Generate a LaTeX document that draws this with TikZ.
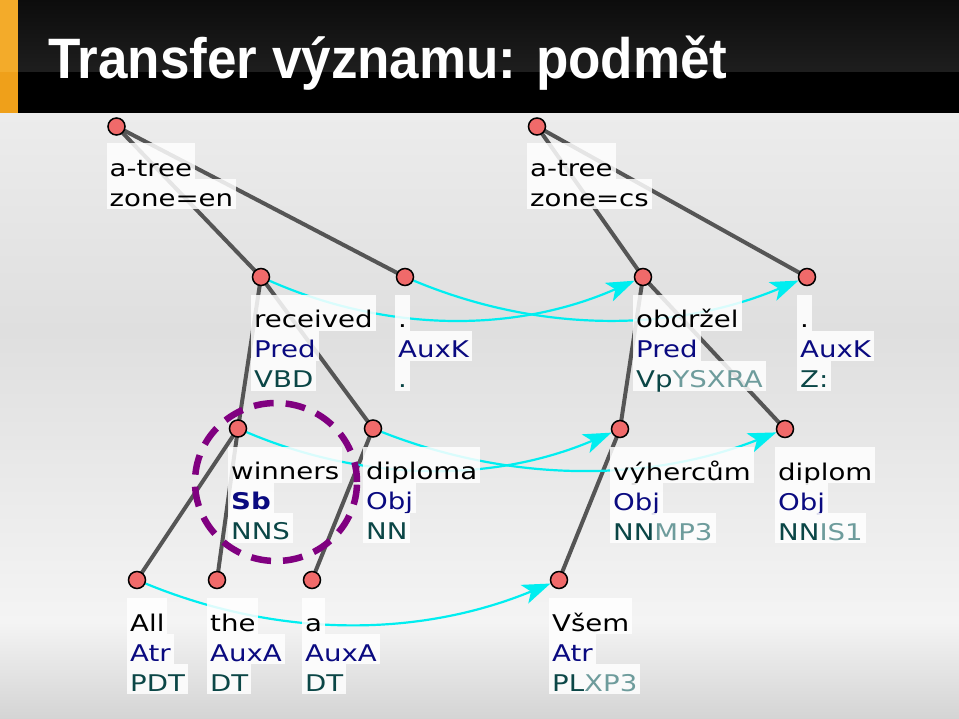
\documentclass[tikz,border=0pt]{standalone}
\usepackage{fontspec}
\setmainfont{DejaVu Sans}
\newfontfamily\lblfont[FakeStretch=1.2]{DejaVu Sans}
\newfontfamily\titlefont[FakeStretch=0.93]{Liberation Sans}
\usetikzlibrary{arrows.meta}
\definecolor{nodefill}{HTML}{F06A6A}
\definecolor{edgegray}{HTML}{555555}
\definecolor{cyanline}{HTML}{00EEF0}
\definecolor{afun}{HTML}{0A0A80}
\definecolor{tagdark}{HTML}{0B4646}
\definecolor{taglight}{HTML}{6E9C9C}
\definecolor{ellcol}{HTML}{800080}
\definecolor{bgbot}{HTML}{D4D4D4}
\definecolor{bglight}{HTML}{F4F4F4}
\definecolor{bgmid}{HTML}{E9E9E9}
\definecolor{bgdark}{HTML}{DFDFDF}
\definecolor{bgtop}{HTML}{ECECEC}
\definecolor{orA}{HTML}{F3AB2A}
\definecolor{orB}{HTML}{EFA01A}
\definecolor{barA}{HTML}{0C0C0C}
\definecolor{barB}{HTML}{1E1E1E}
\pgfdeclareverticalshading{bgshade}{100bp}{color(0bp)=(bgbot); color(25bp)=(bgbot); color(33bp)=(bglight); color(45.5bp)=(bgmid); color(57bp)=(bgdark); color(75bp)=(bgtop); color(100bp)=(bgtop)}
\pgfdeclarelayer{background}
\pgfdeclarelayer{edgelayer}
\pgfdeclarelayer{labellayer}
\pgfsetlayers{background,edgelayer,labellayer,main}
\tikzset{
  tn/.style={circle, fill=nodefill, draw=black, line width=1.5pt, minimum size=17pt, inner sep=0pt},
  treeedge/.style={draw=edgegray, line width=4pt},
  arr/.style={draw=cyanline, line width=2.2pt, -{Stealth[length=28pt, width=20pt, inset=7pt]}},
  lbl/.style={anchor=base west, fill=white, fill opacity=0.85, text opacity=1, inner xsep=3pt, inner ysep=0pt, text height=27pt, text depth=3pt, font=\lblfont\fontsize{23pt}{27pt}\selectfont},
  lone/.style={lbl, text height=33pt, text=black},
  ltwo/.style={lbl, text=afun},
  lthree/.style={lbl, text=tagdark},
}
\newcommand{\tlabel}[6]{%
  \node[lone] (#1a) at ({#2-10},{#3+51}) {#4};
  \node[ltwo] (#1b) at ({#2-10},{#3+81}) {#5};
  \node[lthree] (#1c) at ({#2-10},{#3+111}) {#6};
}
\begin{document}
\begin{tikzpicture}[x=1pt,y=-1pt]
\useasboundingbox (0,0) rectangle (959,719);
\begin{pgfonlayer}{background}
  \shade[shading=bgshade] (0,113) rectangle (959,719);
  \fill[black] (0,0) rectangle (959,113);
  \shade[top color=barA, bottom color=barB] (0,0) rectangle (959,72);
  \fill[orA] (0,0) rectangle (18,72);
  \fill[orB] (0,72) rectangle (18,113);
  \node[anchor=base west, inner sep=0pt, text=white, font=\titlefont\bfseries\fontsize{57pt}{57pt}\selectfont] (title) at (48,79) {Transfer významu: podmět};
\end{pgfonlayer}

% tree nodes
\node[tn] (enroot) at (116.5,126.5) {};
\node[tn] (recv) at (261,277) {};
\node[tn] (doten) at (405,277) {};
\node[tn] (winn) at (238,428.5) {};
\node[tn] (dipa) at (373,428.5) {};
\node[tn] (all) at (137,580) {};
\node[tn] (the) at (217,580) {};
\node[tn] (adet) at (312,580) {};
\node[tn] (csroot) at (537,126.5) {};
\node[tn] (obdr) at (643,277) {};
\node[tn] (dotcs) at (807,277) {};
\node[tn] (vyh) at (620,429) {};
\node[tn] (dipl) at (785,429) {};
\node[tn] (vsem) at (559,580) {};

\begin{pgfonlayer}{edgelayer}
  \draw[treeedge] (enroot.center) -- (recv.center);
  \draw[treeedge] (enroot.center) -- (doten.center);
  \draw[treeedge] (recv.center) -- (winn.center);
  \draw[treeedge] (recv.center) -- (dipa.center);
  \draw[treeedge] (winn.center) -- (all.center);
  \draw[treeedge] (winn.center) -- (the.center);
  \draw[treeedge] (dipa.center) -- (adet.center);
  \draw[treeedge] (csroot.center) -- (obdr.center);
  \draw[treeedge] (csroot.center) -- (dotcs.center);
  \draw[treeedge] (obdr.center) -- (vyh.center);
  \draw[treeedge] (obdr.center) -- (dipl.center);
  \draw[treeedge] (vyh.center) -- (vsem.center);
  \draw[arr] (recv) .. controls +(127,56) and +(-127,56) .. (obdr);
  \draw[arr] (doten) .. controls +(134,56) and +(-134,56) .. (dotcs);
  \draw[arr] (winn) .. controls +(127,54) and +(-127,54) .. (vyh);
  \draw[arr] (dipa) .. controls +(137,54) and +(-137,54) .. (dipl);
  \draw[arr] (all) .. controls +(141,58) and +(-141,58) .. (vsem);
\end{pgfonlayer}

\begin{pgfonlayer}{labellayer}
  \node[lone] (enrootA) at (106.5,176.5) {a-tree};
  \node[lbl, text=black] (enrootB) at (106.5,206.5) {zone=en};
  \tlabel{recvL}{261}{277}{received}{Pred}{VBD}
  \tlabel{dotenL}{405}{277}{.}{AuxK}{.}
  \tlabel{winnL}{238}{428.5}{winners}{\bfseries Sb}{NNS}
  \tlabel{dipaL}{373}{428.5}{diploma}{Obj}{NN}
  \tlabel{allL}{137}{580}{All}{Atr}{PDT}
  \tlabel{theL}{217}{580}{the}{AuxA}{DT}
  \tlabel{adetL}{312}{580}{a}{AuxA}{DT}
  \node[lone] (csrootA) at (527,176.5) {a-tree};
  \node[lbl, text=black] (csrootB) at (527,206.5) {zone=cs};
  \tlabel{obdrL}{643}{277}{obdržel}{Pred}{Vp\textcolor{taglight}{YSXRA}}
  \tlabel{dotcsL}{807}{277}{.}{AuxK}{Z:}
  \tlabel{vyhL}{620}{429}{výhercům}{Obj}{NN\textcolor{taglight}{MP3}}
  \tlabel{diplL}{785}{429}{diplom}{Obj}{NN\textcolor{taglight}{IS1}}
  \tlabel{vsemL}{559}{580}{Všem}{Atr}{PL\textcolor{taglight}{XP3}}
\end{pgfonlayer}

\draw[draw=ellcol, line width=6.5pt, dash pattern=on 20pt off 12pt] (276,482) ellipse [x radius=81pt, y radius=79pt];
\end{tikzpicture}
\end{document}
